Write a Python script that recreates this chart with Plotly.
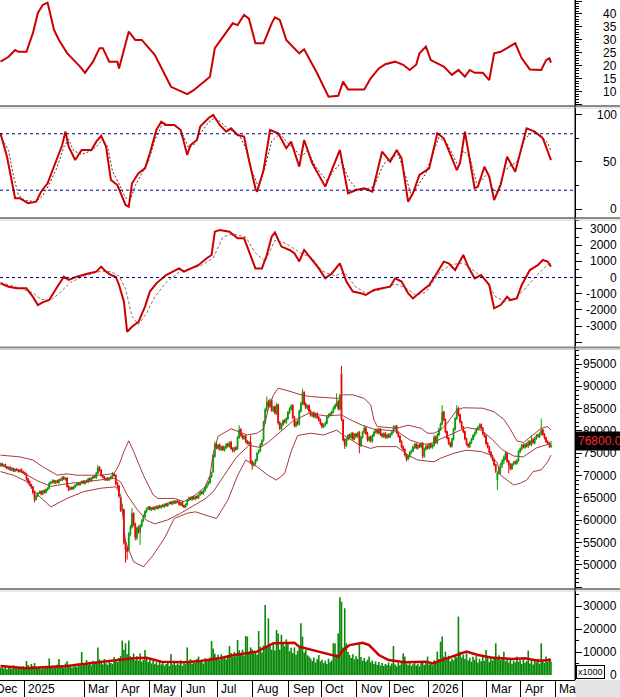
import plotly.graph_objects as go

# ---------------- price data (thousand VND), one value per trading bar ----------------
open_k = [72.3, 72.7, 72.1, 72.5, 71.9, 71.5, 71.9, 71.2, 71.6, 71.0, 71.5, 71.3, 70.9, 71.4, 70.9, 70.7,
          70.4, 69.3, 68.7, 68.0, 67.5, 66.3,
          64.7, 65.4, 66.2, 66.5, 65.8, 66.7, 66.2, 66.8,
          67.1, 68.2, 68.5, 68.9, 68.3, 68.9, 68.4, 69.2, 68.9, 69.7, 69.1,
          69.5, 67.7, 66.9, 67.4, 67.0,
          67.4, 67.8, 68.3, 67.9, 68.3, 68.8, 68.2, 68.9,
          68.5, 69.4, 68.8, 69.4, 69.9,
          69.5, 70.5, 71.9,
          71.3, 70.1, 69.7, 69.0, 69.5,
          69.0, 69.4, 69.7, 70.4,
          70.1, 68.4, 67.7,
          65.0, 62.2, 62.4, 55.3, 53.8,
          53.4, 56.8, 58.4, 61.6, 59.2, 56.0, 58.4, 57.3, 58.7, 59.9,
          60.8, 61.9, 62.5, 63.0, 62.3, 62.9, 62.4, 63.1, 62.6, 63.3, 62.8,
          63.4, 63.0, 63.7, 63.2, 63.7, 64.1, 63.6, 64.3, 63.8, 64.4, 64.2, 63.4,
          64.1, 63.3, 62.9,
          63.5, 64.4, 65.1, 64.6, 65.3, 64.7, 65.4,
          65.0, 65.7, 66.4, 65.9,
          66.6, 67.3, 68.0,
          68.4, 69.7,
          70.8, 74.3,
          77.1, 76.1, 76.9, 75.8, 76.5, 75.7,
          76.2, 77.1, 76.5, 77.5, 76.1, 75.5, 76.3,
          76.0, 78.5,
          80.4, 79.1, 78.3, 78.9, 77.7, 77.1,
          77.6, 73.2, 72.3,
          72.7, 73.4, 75.1, 75.5, 76.9,
          77.9, 81.9, 84.7, 86.6, 85.5,
          86.9, 84.5, 85.4, 83.9,
          85.9, 81.9,
          80.5, 81.4, 82.4, 81.9,
          82.7, 84.1, 84.9,
          85.7, 83.1, 81.1, 82.1,
          81.5, 84.4, 86.1,
          88.7, 86.1, 85.1, 85.7,
          84.5, 83.4, 84.1, 83.1, 83.9,
          83.1, 82.5, 81.7, 80.9, 81.3,
          81.7, 83.1, 83.5, 83.8,
          84.2, 85.1, 85.7, 86.6,
          84.9, 92.8,
          82.5, 78.1, 76.7,
          78.1, 79.1, 78.5, 79.5,
          78.1, 79.3, 78.7, 79.7,
          76.7, 78.5, 79.7, 80.7, 79.5,
          77.9, 78.7, 77.7,
          78.9, 79.7, 80.3, 79.5,
          80.5, 79.3, 78.7, 79.5, 78.5, 79.2, 78.6,
          79.2, 79.7, 80.5, 81.1,
          79.7, 78.9, 77.7, 76.5, 75.9, 74.7,
          73.7, 74.3, 75.1,
          75.5, 76.3, 77.1, 76.1, 76.9, 76.4, 77.3,
          74.3, 75.9, 76.7, 76.1, 77.1, 76.3,
          76.7, 78.7, 77.3, 79.1,
          80.3, 81.5, 84.3, 82.6,
          79.9, 78.5, 77.3, 76.5, 78.1,
          80.3, 82.7, 85.1, 83.7,
          82.1, 80.9, 79.9, 78.3,
          77.1, 76.5, 77.3,
          78.1, 78.9, 79.5, 80.3, 80.7, 81.5,
          80.7, 79.5, 78.9, 77.3,
          76.5, 75.3, 74.5, 73.7, 72.5,
          69.0, 70.5,
          71.7, 72.5, 73.3, 74.1,
          75.1, 73.3, 72.5,
          71.5, 72.5, 73.1, 72.7,
          73.3, 75.3,
          75.9, 76.9, 76.3, 77.1, 76.5,
          77.7, 76.9, 78.1, 77.3,
          78.3, 79.1, 78.7, 79.3,
          80.3, 79.3, 78.5, 77.7, 77.3, 76.5]

high_k = [72.9, 72.9, 72.6, 72.7, 72.1, 72.0, 72.1, 71.7, 71.8, 71.6, 71.7, 71.5, 71.5, 71.6, 71.1, 70.9,
          70.6, 69.5, 68.9, 68.2, 67.7, 66.5,
          65.8, 66.3, 66.7, 66.7, 66.8, 66.9, 67.1, 67.4,
          68.6, 68.8, 69.2, 69.1, 69.0, 69.1, 69.3, 69.4, 69.9, 69.9, 69.6,
          69.7, 67.9, 67.5, 67.6, 67.7,
          68.1, 68.4, 68.5, 68.6, 68.9, 69.0, 69.0, 69.1,
          69.5, 69.6, 69.7, 70.0, 70.1,
          70.8, 72.4, 72.1,
          71.5, 70.3, 69.9, 69.6, 69.7,
          69.7, 70.0, 70.8, 70.6,
          70.3, 68.6, 67.9,
          65.2, 63.7, 62.6, 55.8, 54.3,
          57.4, 59.0, 62.8, 61.8, 59.5, 58.6, 58.8, 59.2, 60.3, 61.3,
          62.3, 62.9, 63.2, 63.2, 63.0, 63.1, 63.2, 63.3, 63.4, 63.5, 63.5,
          63.6, 63.8, 63.9, 64.0, 64.2, 64.3, 64.4, 64.5, 64.5, 64.6, 64.4, 64.2,
          64.3, 63.5, 63.8,
          64.7, 65.3, 65.3, 65.4, 65.5, 65.5, 65.6,
          66.0, 66.5, 66.6, 66.9,
          67.6, 68.2, 68.8,
          70.0, 70.9,
          74.8, 77.6,
          77.5, 77.1, 77.2, 76.7, 76.8, 76.6,
          77.3, 77.4, 77.7, 77.8, 76.4, 76.5, 76.6,
          78.9, 81.3,
          80.6, 79.4, 79.1, 79.2, 78.0, 77.8,
          79.0, 73.5, 73.1,
          73.8, 75.3, 75.9, 77.3, 78.1,
          82.3, 85.2, 87.7, 87.0, 87.3,
          87.1, 85.6, 85.7, 86.3,
          86.1, 82.2,
          81.8, 82.6, 82.7, 83.1,
          84.5, 85.3, 86.0,
          86.0, 83.4, 82.3, 82.5,
          84.8, 86.6, 89.5,
          88.9, 86.4, 85.9, 86.0,
          84.8, 84.3, 84.4, 84.1, 84.2,
          83.4, 82.8, 81.9, 81.7, 82.1,
          83.5, 83.9, 84.2, 84.6,
          85.5, 86.1, 88.4, 87.0,
          88.3, 94.6,
          82.7, 78.4, 78.5,
          79.3, 79.4, 79.7, 79.8,
          79.5, 79.6, 79.9, 80.0,
          78.9, 80.1, 81.3, 80.9, 79.8,
          78.9, 79.0, 79.3,
          80.1, 80.5, 80.6, 80.7,
          80.7, 79.6, 79.7, 79.8, 79.4, 79.5, 79.6,
          80.1, 81.3, 81.3, 81.4,
          79.9, 79.1, 77.9, 76.8, 76.1, 74.9,
          74.7, 75.5, 75.9,
          76.7, 77.3, 77.4, 77.1, 77.2, 77.5, 77.5,
          76.3, 76.9, 77.0, 77.3, 77.4, 77.1,
          79.1, 78.9, 79.5, 80.8,
          81.9, 85.8, 84.5, 82.8,
          80.1, 78.7, 77.5, 78.5, 80.7,
          83.1, 85.8, 85.4, 83.9,
          82.3, 81.1, 80.1, 78.5,
          77.3, 77.7, 78.5,
          79.3, 79.9, 80.7, 81.1, 81.7, 81.7,
          80.9, 79.7, 79.1, 77.5,
          76.7, 75.5, 74.7, 73.9, 72.7,
          71.0, 72.1,
          72.9, 73.7, 74.5, 75.4,
          75.3, 73.5, 72.8,
          72.8, 73.3, 73.4, 73.7,
          75.7, 76.3,
          77.1, 77.2, 77.3, 77.4, 77.9,
          77.9, 78.9, 78.4, 78.7,
          79.3, 79.4, 79.7, 82.8,
          80.5, 79.5, 78.7, 77.9, 77.5, 77.8]

low_k = [72.0, 72.0, 71.9, 71.7, 71.4, 71.3, 71.1, 71.0, 70.8, 70.8, 71.0, 70.7, 70.7, 70.6, 70.4, 70.1,
         68.9, 68.3, 67.6, 67.0, 65.8, 64.0,
         64.4, 65.2, 65.9, 65.6, 65.6, 66.0, 66.0, 66.6,
         66.9, 68.0, 68.3, 68.2, 68.1, 68.3, 68.2, 68.8, 68.7, 69.0, 68.9,
         67.3, 66.5, 66.7, 66.8, 66.8,
         67.2, 67.6, 67.8, 67.7, 68.1, 68.1, 68.0, 68.4,
         68.3, 68.7, 68.6, 69.2, 69.4,
         69.3, 70.3, 70.9,
         69.8, 69.4, 68.9, 68.8, 68.8,
         68.8, 69.2, 69.5, 69.8,
         67.9, 67.2, 65.0,
         61.9, 61.8, 54.6, 50.5, 51.2,
         53.0, 56.4, 58.1, 58.6, 55.5, 55.6, 57.0, 54.5, 58.4, 59.6,
         60.6, 61.7, 62.3, 62.2, 62.1, 62.3, 62.2, 62.5, 62.4, 62.7, 62.6,
         62.9, 62.8, 63.1, 63.0, 63.5, 63.5, 63.4, 63.7, 63.6, 63.9, 63.3, 63.2,
         63.0, 62.7, 62.7,
         63.3, 64.2, 64.5, 64.4, 64.6, 64.5, 64.8,
         64.8, 65.5, 65.8, 65.7,
         66.4, 67.1, 67.8,
         68.2, 69.5,
         70.6, 74.0,
         75.9, 75.8, 75.6, 75.5, 75.5, 75.4,
         76.0, 76.3, 76.3, 75.8, 75.2, 75.2, 75.6,
         75.8, 78.2,
         78.7, 78.1, 78.0, 77.3, 76.9, 76.8,
         72.6, 71.3, 72.0,
         72.4, 73.2, 74.8, 75.3, 76.6,
         77.6, 81.6, 84.3, 85.2, 85.2,
         84.3, 84.2, 83.7, 83.6,
         81.4, 80.2,
         80.2, 81.1, 81.7, 81.6,
         82.4, 83.8, 84.6,
         82.7, 80.8, 80.8, 81.2,
         81.2, 84.1, 85.8,
         85.6, 84.9, 84.8, 84.1,
         83.2, 83.1, 82.9, 82.8, 82.7,
         82.1, 81.3, 80.6, 80.6, 81.0,
         81.5, 82.8, 83.2, 83.5,
         84.0, 84.8, 85.4, 84.6,
         84.6, 82.2,
         77.6, 76.0, 76.4,
         77.8, 78.3, 78.2, 77.9,
         77.9, 78.5, 78.4, 75.0,
         76.4, 78.3, 79.4, 79.1, 77.6,
         77.6, 77.4, 77.4,
         78.7, 79.4, 79.3, 79.2,
         78.9, 78.5, 78.4, 78.3, 78.2, 78.4, 78.4,
         79.0, 79.5, 80.2, 79.3,
         78.5, 77.3, 76.1, 75.5, 74.3, 73.2,
         73.4, 74.0, 74.8,
         75.3, 76.0, 75.9, 75.8, 76.2, 76.1, 73.9,
         74.0, 75.6, 75.9, 75.8, 76.1, 76.0,
         76.5, 77.1, 77.0, 78.8,
         80.1, 81.3, 82.2, 79.5,
         78.1, 76.9, 76.3, 76.3, 77.9,
         80.1, 82.5, 83.3, 81.7,
         80.5, 79.5, 77.9, 76.7,
         76.2, 76.2, 77.1,
         77.9, 78.7, 79.3, 80.1, 80.5, 80.3,
         79.1, 78.5, 76.9, 76.1,
         74.9, 74.0, 73.2, 72.1, 70.6,
         66.8, 70.2,
         70.5, 71.8, 72.6, 73.5,
         72.9, 70.5, 71.2,
         71.3, 72.2, 72.5, 72.4,
         73.1, 75.0,
         75.6, 76.1, 76.0, 76.3, 76.2,
         76.7, 76.6, 77.1, 77.0,
         78.0, 78.5, 78.4, 79.0,
         78.9, 78.1, 77.3, 76.9, 76.2, 76.2]

close_k = [72.6, 72.2, 72.4, 71.9, 71.6, 71.8, 71.3, 71.5, 71.0, 71.4, 71.2, 70.9, 71.3, 70.8, 70.6, 70.3,
           69.2, 68.6, 67.9, 67.4, 66.2, 64.6,
           65.5, 66.1, 66.4, 65.9, 66.6, 66.3, 66.9, 67.2,
           68.3, 68.6, 68.9, 68.4, 68.8, 68.5, 69.1, 69.0, 69.6, 69.2, 69.4,
           67.6, 66.8, 67.3, 67.0, 67.5,
           67.9, 68.2, 68.0, 68.4, 68.7, 68.3, 68.8, 68.6,
           69.3, 68.9, 69.5, 69.8, 69.6,
           70.6, 71.8, 71.2,
           70.0, 69.6, 69.1, 69.4, 69.0,
           69.5, 69.8, 70.3, 70.0,
           68.2, 67.6, 65.4,
           62.3, 62.6, 55.0, 53.5, 53.0,
           57.0, 58.5, 61.5, 59.0, 56.2, 58.3, 57.5, 58.8, 60.0, 61.0,
           62.0, 62.6, 62.9, 62.4, 62.8, 62.5, 63.0, 62.7, 63.2, 62.9, 63.3,
           63.1, 63.6, 63.3, 63.8, 64.0, 63.7, 64.2, 63.9, 64.3, 64.1, 63.5, 64.0,
           63.2, 63.0, 63.6,
           64.5, 65.0, 64.7, 65.2, 64.8, 65.3, 65.0,
           65.8, 66.3, 66.0, 66.7,
           67.4, 68.0, 68.5,
           69.8, 70.6,
           74.5, 77.0,
           76.2, 76.8, 75.9, 76.4, 75.8, 76.3,
           77.0, 76.6, 77.4, 76.0, 75.6, 76.2, 75.9,
           78.6, 80.3,
           79.0, 78.4, 78.8, 77.6, 77.2, 77.5,
           73.0, 72.4, 72.8,
           73.5, 75.0, 75.6, 77.0, 77.8,
           82.0, 84.8, 86.5, 85.6, 86.8,
           84.6, 85.3, 84.0, 85.8,
           81.8, 80.6,
           81.5, 82.3, 82.0, 82.8,
           84.2, 85.0, 85.6,
           83.0, 81.2, 82.0, 81.6,
           84.5, 86.2, 88.6,
           86.0, 85.2, 85.6, 84.4,
           83.5, 84.0, 83.2, 83.8, 83.0,
           82.4, 81.6, 81.0, 81.4, 81.8,
           83.2, 83.6, 83.9, 84.3,
           85.2, 85.8, 86.4, 85.0,
           88.0, 82.6,
           78.0, 76.8, 78.2,
           79.0, 78.6, 79.4, 78.2,
           79.2, 78.8, 79.6, 76.8,
           78.6, 79.8, 80.6, 79.4, 78.0,
           78.6, 77.8, 79.0,
           79.8, 80.2, 79.6, 80.4,
           79.2, 78.8, 79.4, 78.6, 79.1, 78.7, 79.3,
           79.8, 80.6, 81.0, 79.6,
           78.8, 77.6, 76.4, 75.8, 74.6, 73.8,
           74.4, 75.2, 75.6,
           76.4, 77.0, 76.2, 76.8, 76.5, 77.2, 74.4,
           76.0, 76.6, 76.2, 77.0, 76.4, 76.8,
           78.6, 77.4, 79.2, 80.4,
           81.6, 84.2, 82.5, 79.8,
           78.4, 77.2, 76.6, 78.2, 80.4,
           82.8, 85.0, 83.6, 82.0,
           80.8, 79.8, 78.2, 77.0,
           76.6, 77.4, 78.2,
           79.0, 79.6, 80.4, 80.8, 81.4, 80.6,
           79.4, 78.8, 77.2, 76.4,
           75.2, 74.4, 73.6, 72.4, 71.0,
           70.6, 71.8,
           72.6, 73.4, 74.2, 75.0,
           73.2, 72.4, 71.6,
           72.6, 73.0, 72.8, 73.4,
           75.4, 76.0,
           76.8, 76.4, 77.0, 76.6, 77.6,
           77.0, 78.0, 77.4, 78.4,
           79.0, 78.8, 79.4, 80.2,
           79.2, 78.4, 77.6, 77.2, 76.6, 76.8]

# volume, in units of 1000 shares (axis note "x1000")
volume_k = [3200, 4100, 2800, 3600, 2500, 3900, 3000, 2700, 4200, 3300,
            2900, 3500, 2600, 3100, 3800, 2700, 6100, 4300, 3600, 4800,
            3900, 5200, 3400, 2900, 3700, 2500, 3300, 2800, 4000, 3100,
            7200, 3600, 4100, 3000, 3800, 4500, 7000, 3600, 4200, 3300,
            5000, 6000, 3800, 4400, 3100, 3600, 4900, 3400, 5200, 4000,
            10000, 4500, 5200, 6500, 4300, 5800, 4100, 6200, 5000, 5600,
            12000, 6800, 5400, 4600, 7000, 5100, 4400, 6300, 5200, 4800,
            7800, 6600, 5600, 7400, 8200, 15000, 11000, 13800, 9000, 15000,
            8200, 7000, 9300, 6400, 8100, 6200, 9300, 5800, 6600, 10900,
            7200, 5600, 6800, 5000, 6100, 4700, 5500, 4300, 5900, 4600,
            5200, 4100, 4800, 5700, 3900, 9100, 4600, 5300, 4200, 5000,
            4500, 6400, 4000, 5100, 4700, 12000, 5600, 6900, 4900, 6200,
            5300, 7000, 8000, 5600, 6400, 5000, 7300, 6000, 6700, 7500,
            14800, 11500, 9200, 7600, 8800, 6500, 9000, 7200, 8300, 6800,
            8700, 12600, 9600, 7800, 10000, 8200, 15200, 10800, 9300, 11000,
            8500, 17000, 16700, 9700, 12000, 11200, 9400, 10500, 8800, 19100,
            12300, 9800, 12800, 30400, 12000, 24600, 13500, 11000, 13800, 10600,
            19600, 18000, 11000, 17500, 14000, 12500, 15500, 13800, 10300, 11800,
            9500, 12000, 8800, 10500, 12300, 22500, 16700, 9800, 11000, 8600,
            8000, 7200, 6100, 7600, 5400, 6800, 8700, 5900, 6600, 5200,
            6200, 4800, 7100, 5600, 6400, 13800, 13800, 9000, 18100, 33800,
            31900, 12000, 29000, 13800, 10000, 8700, 7400, 9000, 6800, 8200,
            7000, 13500, 7800, 6200, 7400, 5800, 6600, 8000, 5500, 6300,
            4800, 5900, 4400, 5600, 4100, 5200, 3900, 4800, 4300, 5400,
            4000, 5000, 12600, 4600, 3800, 5300, 4200, 5700, 9400, 8000,
            5000, 4300, 5800, 3900, 4700, 5500, 4100, 4900, 3800, 5200,
            6000, 4400, 5300, 8000, 4600, 5800, 4200, 6400, 5600, 10150,
            7000, 14500, 16700, 8000, 10150, 6800, 8400, 5900, 7200, 6400,
            8600, 7700, 25400, 10150, 7600, 8800, 7000, 9400, 6300, 7500,
            5800, 7900, 6600, 8200, 5400, 7100, 6000, 8500, 6200, 10900,
            7400, 5600, 7900, 6300, 8000, 13800, 7200, 8600, 6500, 7800,
            10150, 6100, 7300, 5400, 6800, 4900, 6200, 5500, 8000, 5800,
            6600, 4800, 7000, 5300, 6100, 10600, 5000, 6700, 4600, 6400,
            5500, 7100, 4900, 13800, 6000, 5300, 8000, 5700, 7400, 5900]

# ---------------- indicator lines (bar index, value) ----------------
adx_x = [0, 5, 9, 11, 16, 20, 23, 26, 29, 33, 36, 41, 49, 52, 57, 61, 63, 67, 72, 73,
         79, 83, 87, 95, 105, 115, 119, 124, 129, 132, 137, 143, 146, 150, 153, 157, 162, 167, 169, 172,
         176, 180, 184, 187, 190, 195, 202, 208, 211, 214, 224, 228, 233, 237, 243, 248, 252, 256, 258, 262,
         265, 273, 278, 282, 286, 289, 292, 297, 301, 304, 308, 314, 317, 321, 326, 333, 336, 338, 339]
adx_v = [21.6, 23.5, 26.1, 25.4, 25.4, 32.7, 40.4, 43.5, 44.4, 33.8, 30.0, 24.9, 19.7, 17.3, 21.6, 26.8, 26.8, 21.6, 21.6, 19.0,
         33.2, 30.0, 30.0, 24.2, 11.9, 9.1, 10.6, 13.2, 15.8, 26.8, 31.2, 36.4, 35.7, 39.6, 38.2, 28.7, 28.7, 36.4, 38.7, 37.7,
         30.0, 27.4, 24.8, 26.4, 22.9, 17.1, 8.1, 8.4, 13.9, 10.9, 10.9, 15.2, 19.0, 20.6, 21.6, 20.4, 18.4, 20.4, 24.8, 27.4,
         22.2, 19.7, 16.5, 18.4, 15.8, 18.4, 17.3, 17.3, 14.5, 24.8, 25.4, 27.4, 28.7, 22.9, 18.6, 18.4, 22.2, 22.9, 21.2]

stk_x = [0, 4, 6, 9, 12, 17, 22, 25, 29, 34, 38, 40, 42, 46, 50, 56, 59, 62, 65, 68,
         72, 77, 79, 81, 85, 89, 92, 96, 99, 102, 107, 111, 115, 117, 121, 123, 128, 131, 135, 139,
         142, 146, 150, 153, 157, 158, 162, 166, 171, 176, 179, 184, 187, 192, 200, 204, 209, 214, 219, 224,
         229, 235, 240, 244, 247, 251, 254, 258, 264, 269, 273, 281, 283, 286, 292, 294, 298, 301, 304, 308,
         312, 317, 324, 329, 334, 336, 339]
stk_k = [80.5, 55.6, 38.0, 11.4, 11.4, 6.1, 7.8, 18.4, 27.3, 50.3, 68.0, 82.3, 66.3, 52.1, 62.8, 62.8, 71.6, 77.7, 66.3, 30.9,
         25.5, 4.3, 2.5, 27.3, 38.0, 43.3, 59.2, 84.0, 92.9, 89.4, 89.4, 84.0, 57.4, 68.0, 73.4, 87.6, 96.5, 100.0, 89.4, 82.3,
         85.8, 78.7, 77.0, 52.1, 22.0, 18.4, 41.4, 84.0, 80.5, 64.6, 71.6, 45.0, 73.4, 48.6, 23.8, 41.4, 62.8, 16.7, 20.2, 22.0,
         18.4, 60.9, 50.3, 62.8, 53.9, 7.8, 16.7, 36.2, 43.3, 80.5, 75.2, 41.4, 48.6, 82.3, 22.0, 23.8, 45.0, 34.4, 9.6, 25.5,
         55.6, 39.6, 85.8, 82.3, 75.2, 66.0, 52.0]

std_x = [0, 5, 8, 11, 15, 22, 26, 30, 35, 39, 42, 45, 50, 56, 60, 63, 66, 69, 73, 77,
         80, 83, 87, 91, 95, 99, 103, 108, 112, 116, 119, 123, 128, 132, 136, 140, 143, 147, 151, 155,
         159, 163, 167, 172, 177, 181, 185, 189, 194, 201, 205, 210, 215, 220, 225, 230, 236, 241, 245, 249,
         253, 257, 262, 266, 270, 275, 282, 285, 289, 293, 296, 300, 303, 306, 310, 314, 318, 323, 328, 333,
         337, 339]
std_d = [78, 62, 35, 15, 9, 8, 14, 26, 45, 66, 74, 62, 58, 62, 68, 74, 66, 40, 27, 12,
         10, 25, 38, 50, 73, 88, 90, 89, 80, 65, 68, 80, 92, 97, 92, 85, 83, 79, 65, 40,
         23, 45, 72, 80, 70, 64, 55, 62, 45, 30, 40, 50, 30, 20, 21, 24, 48, 55, 58, 38,
         14, 25, 38, 58, 76, 70, 45, 62, 55, 28, 30, 38, 22, 18, 40, 46, 50, 75, 82, 78,
         70, 62]

macd_x = [0, 5, 10, 16, 20, 23, 26, 30, 35, 39, 42, 47, 54, 59, 62, 65, 68, 71, 73, 76,
          78, 81, 85, 89, 92, 96, 102, 110, 113, 117, 122, 127, 130, 132, 135, 141, 146, 150, 153, 157,
          161, 164, 167, 169, 173, 178, 181, 184, 187, 191, 196, 200, 204, 209, 213, 217, 222, 225, 230, 235,
          240, 243, 247, 251, 254, 259, 264, 268, 273, 276, 280, 285, 288, 292, 296, 301, 304, 308, 312, 314,
          318, 321, 326, 331, 334, 337, 339]
macd_v = [-360, -570, -670, -670, -1190, -1700, -1530, -1390, -570, 50, -150, 50, 250, 360, 670, 360, 150, 50, -460, -1490,
          -3350, -3040, -2740, -1800, -870, -360, 150, 560, 360, 560, 770, 1190, 1390, 2830, 2930, 2830, 2420, 2420, 1600, 560,
          560, 1390, 2520, 2780, 1910, 1700, 1500, 990, 1700, 1190, 560, -50, 250, 870, -250, -870, -970, -1080, -770, -670,
          -570, -50, -250, -970, -1290, -870, -460, 150, 980, 870, 460, 1390, 670, -50, 150, -460, -1900, -1700, -1190, -1390,
          -1290, -460, 460, 770, 1080, 980, 670]

sig_x = [0, 10, 20, 25, 31, 37, 43, 52, 62, 68, 73, 77, 81, 85, 90, 95, 102, 111, 123, 131,
         137, 143, 151, 157, 163, 169, 176, 185, 192, 198, 206, 212, 219, 225, 234, 243, 249, 256, 262, 271,
         278, 285, 293, 299, 305, 311, 317, 323, 331, 337, 339]
sig_v = [-300, -600, -950, -1350, -1400, -900, -300, 100, 400, 350, 100, -700, -2400, -2900, -2200, -1200, -300, 400, 700, 1200,
         2500, 2700, 2500, 1500, 1000, 2300, 2100, 1500, 1200, 400, 100, 300, -600, -950, -750, -400, -600, -1100, -900, 400,
         800, 900, 300, -200, -1200, -1500, -1300, -700, 200, 800, 850]

bb_up_x = [0, 12, 20, 26, 35, 41, 47, 54, 62, 70, 73, 76, 79, 82, 88, 94, 97, 107, 113, 120,
           126, 129, 131, 134, 142, 152, 158, 162, 165, 168, 171, 179, 185, 191, 203, 208, 211, 217, 224, 228,
           230, 232, 244, 251, 259, 263, 267, 271, 275, 281, 285, 297, 304, 310, 314, 318, 322, 326, 333, 337, 339]
bb_up_k = [74.6, 74.2, 73.5, 72.0, 70.1, 70.4, 70.1, 70.1, 70.1, 70.5, 72.4, 75.4, 77.8, 75.4, 70.1, 65.7, 64.9, 64.9, 64.2, 65.7,
           67.5, 70.0, 75.0, 78.8, 80.5, 79.1, 79.5, 80.5, 85.0, 88.0, 89.6, 88.8, 88.1, 87.7, 87.3, 87.3, 88.1, 88.1, 87.3, 85.8,
           82.5, 81.0, 80.6, 81.3, 80.6, 79.5, 79.5, 80.2, 81.7, 84.7, 85.2, 85.1, 84.3, 82.6, 80.4, 77.8, 77.4, 78.5, 80.6, 81.0, 80.2]

bb_mid_x = [0, 8, 16, 23, 31, 41, 51, 62, 70, 74, 78, 84, 90, 95, 103, 111, 120, 126, 131, 137,
            145, 153, 160, 165, 170, 180, 190, 200, 210, 215, 222, 230, 244, 252, 260, 265, 271, 279, 287, 296,
            302, 309, 316, 322, 330, 337, 339]
bb_mid_k = [72.4, 71.6, 70.2, 68.8, 67.6, 68.2, 68.6, 69.0, 69.4, 68.6, 65.7, 62.5, 60.0, 59.2, 60.1, 61.6, 63.5, 64.8, 66.4, 69.7,
            74.0, 76.8, 76.3, 77.5, 79.0, 82.2, 84.0, 83.4, 83.6, 82.6, 81.4, 80.4, 80.0, 78.0, 77.0, 77.2, 78.2, 79.5, 80.8, 80.2,
            78.4, 75.8, 74.4, 74.2, 76.2, 77.0, 77.2]

bb_lo_x = [0, 8, 16, 23, 31, 41, 51, 62, 71, 74, 77, 82, 88, 94, 101, 107, 115, 120, 126, 131,
           133, 140, 146, 151, 158, 165, 170, 175, 179, 183, 191, 199, 207, 211, 221, 228, 232, 244, 251, 257,
           267, 271, 279, 287, 296, 302, 306, 308, 312, 316, 320, 324, 328, 333, 337, 339]
bb_lo_k = [70.9, 70.1, 68.7, 65.7, 63.0, 64.9, 66.4, 67.2, 67.5, 65.7, 55.2, 50.7, 49.6, 52.2, 56.0, 60.4, 61.6, 61.9, 61.2, 60.5,
           60.4, 64.5, 70.0, 73.5, 72.0, 70.0, 69.0, 70.5, 75.4, 79.0, 79.5, 79.1, 80.2, 79.1, 76.9, 76.1, 76.5, 76.5, 74.6, 73.5,
           73.1, 73.9, 75.0, 75.7, 75.4, 74.6, 72.8, 70.1, 69.0, 67.9, 68.3, 69.0, 70.9, 71.3, 73.1, 74.6]

vol_ma_x = [0, 16, 41, 51, 62, 72, 82, 90, 99, 113, 123, 135, 144, 158, 168, 176, 181, 184, 192, 198,
            206, 208, 211, 215, 223, 227, 233, 239, 249, 262, 266, 274, 280, 287, 294, 303, 315, 323, 331, 339]
vol_ma_v = [3900, 2900, 3900, 4800, 5800, 6500, 7250, 7500, 5800, 5500, 6100, 7250, 8700, 10150, 13800, 14000, 14000, 12300, 10900, 9700,
            8300, 8000, 10900, 13000, 14000, 13000, 8700, 6500, 5500, 5800, 5000, 7000, 8700, 10150, 8700, 7500, 7000, 7250, 6200, 6500]

# ---------------- axis labels ----------------
month_pos = [14.5, 51.5, 71.5, 91.5, 111.5, 133.5, 155.5, 177.5, 197.5, 219.5, 239.5, 263.5, 299.5, 320.5, 341.5]
month_txt = ["2025", "Mar", "Apr", "May", "Jun", "Jul", "Aug", "Sep", "Oct", "Nov", "Dec", "2026", "Mar", "Apr", "Ma"]
sep_pos = [14.5, 51.5, 71.5, 91.5, 111.5, 133.5, 155.5, 177.5, 197.5, 219.5, 239.5, 263.5, 284.5, 299.5, 320.5, 341.5]
prev_month_pos = -5.5
prev_month_txt = "Dec"

adx_ticks = [10, 15, 20, 25, 30, 35, 40]
stoch_ticks = [0, 50, 100]
macd_ticks = [-3000, -2000, -1000, 0, 1000, 2000, 3000]
price_ticks = [50000, 55000, 60000, 65000, 70000, 75000, 80000, 85000, 90000, 95000]
vol_ticks = [0, 10000, 20000, 30000]

# ---------------- build ----------------
bars = list(range(len(close_k)))
to_vnd = lambda arr: [v * 1000 for v in arr]

RED = "#cc0000"
FONT = "Liberation Sans, Arial, sans-serif"
PLOT_H = 680.0
X_RANGE = [-0.3, 353.8]

def dom(top_px, bot_px):
    return [1 - bot_px / PLOT_H, 1 - top_px / PLOT_H]

fig = go.Figure()

fig.add_trace(go.Scatter(x=adx_x, y=adx_v, mode="lines", line=dict(color=RED, width=2),
                         xaxis="x", yaxis="y"))

fig.add_trace(go.Scatter(x=std_x, y=std_d, mode="lines", line=dict(color="#5a2a2a", width=1, dash="2px,2px"),
                         xaxis="x", yaxis="y2"))
fig.add_trace(go.Scatter(x=stk_x, y=stk_k, mode="lines", line=dict(color=RED, width=2),
                         xaxis="x", yaxis="y2"))

fig.add_trace(go.Scatter(x=sig_x, y=sig_v, mode="lines", line=dict(color="#9a6a6a", width=1, dash="3px,2px"),
                         xaxis="x", yaxis="y3"))
fig.add_trace(go.Scatter(x=macd_x, y=macd_v, mode="lines", line=dict(color=RED, width=2),
                         xaxis="x", yaxis="y3"))

for bx, bk in [(bb_up_x, bb_up_k), (bb_mid_x, bb_mid_k), (bb_lo_x, bb_lo_k)]:
    fig.add_trace(go.Scatter(x=bx, y=to_vnd(bk), mode="lines", line=dict(color="#a83a3a", width=1),
                             xaxis="x", yaxis="y4"))

fig.add_trace(go.Candlestick(
    x=bars, open=to_vnd(open_k), high=to_vnd(high_k), low=to_vnd(low_k), close=to_vnd(close_k),
    increasing=dict(line=dict(color="#0a9a0a", width=1), fillcolor="#0a9a0a"),
    decreasing=dict(line=dict(color="#ee0000", width=1), fillcolor="#ee0000"),
    whiskerwidth=0, xaxis="x", yaxis="y4"))

fig.add_trace(go.Bar(x=bars, y=volume_k, marker=dict(color="#0a8a0a", line=dict(width=0)), width=1.0,
                     xaxis="x", yaxis="y5"))
fig.add_trace(go.Scatter(x=vol_ma_x, y=vol_ma_v, mode="lines", line=dict(color=RED, width=2.5),
                         xaxis="x", yaxis="y5"))

def yax(domain, rng, dtick, minor_dtick):
    return dict(domain=domain, range=rng, anchor="x", side="right", showgrid=False, zeroline=False,
                showline=True, linecolor="black", linewidth=1, ticks="outside", ticklen=6, tickcolor="black",
                tick0=0, dtick=dtick, showticklabels=False, fixedrange=True,
                minor=dict(ticks="outside", ticklen=3, tickcolor="black", dtick=minor_dtick, showgrid=False))

fig.update_layout(
    width=620, height=697,
    margin=dict(l=0, r=45, t=0, b=17),
    paper_bgcolor="white", plot_bgcolor="white",
    showlegend=False,
    font=dict(family=FONT, size=12, color="black"),
    xaxis=dict(domain=[0, 1], anchor="y5", range=X_RANGE, showgrid=False, zeroline=False,
               showline=True, linecolor="black", linewidth=1,
               tickmode="array", tickvals=sep_pos, ticks="outside", ticklen=16, tickcolor="black",
               showticklabels=False, rangeslider=dict(visible=False), fixedrange=True),
    yaxis=yax(dom(0, 105), [4.87, 45.4], 5, 1),
    yaxis2=yax(dom(108, 217), [-8.5, 107.4], 50, 25),
    yaxis3=yax(dom(220, 346), [-4228, 3549], 1000, 500),
    yaxis4=yax(dom(349, 588), [44846, 98358], 5000, 1000),
    yaxis5=yax(dom(591, 680), [-2174, 36522], 10000, 5000),
)

shapes = []
# dashed reference lines
for yv in (20, 80):
    shapes.append(dict(type="line", xref="x domain", yref="y2", x0=0, x1=1, y0=yv, y1=yv,
                       line=dict(color="#000080", width=1, dash="3px,3px")))
shapes.append(dict(type="line", xref="x domain", yref="y3", x0=0, x1=1, y0=0, y1=0,
                   line=dict(color="#000080", width=1, dash="3px,3px")))
# panel separators
for py in (106, 218, 347.5, 589):
    shapes.append(dict(type="line", xref="paper", yref="paper", x0=0, x1=1.08,
                       y0=1 - py / PLOT_H, y1=1 - py / PLOT_H, line=dict(color="#8a8a8a", width=2)))
    shapes.append(dict(type="line", xref="paper", yref="paper", x0=0, x1=1.08,
                       y0=1 - (py + 2) / PLOT_H, y1=1 - (py + 2) / PLOT_H, line=dict(color="#d2d2d2", width=1)))
# continuous right axis line
shapes.append(dict(type="line", xref="paper", yref="paper", x0=1, x1=1, y0=0, y1=1,
                   line=dict(color="black", width=1)))
# grey corner under the value axis
shapes.append(dict(type="rect", xref="paper", yref="paper", x0=1.0, x1=1.08, y0=-0.03, y1=0,
                   fillcolor="#e4e4e4", line=dict(width=0), layer="above"))
fig.update_layout(shapes=shapes)

ann = []
def ylabels(vals, yref):
    for v in vals:
        ann.append(dict(x=1, xref="paper", xanchor="right", xshift=44, y=v, yref=yref, yanchor="middle",
                        text=str(v), showarrow=False, font=dict(size=12, family=FONT, color="black")))
ylabels(adx_ticks, "y")
ylabels(stoch_ticks, "y2")
ylabels(macd_ticks, "y3")
ylabels(price_ticks, "y4")
ylabels(vol_ticks, "y5")

label_y = -9 / PLOT_H
for pos, txt in zip(month_pos, month_txt):
    ann.append(dict(x=pos, xref="x", y=label_y, yref="paper", xanchor="left", yanchor="middle", xshift=2,
                    text=txt, showarrow=False, font=dict(size=12, family=FONT, color="black")))
prev_frac = (prev_month_pos - X_RANGE[0]) / (X_RANGE[1] - X_RANGE[0])
ann.append(dict(x=prev_frac, xref="paper", y=label_y, yref="paper", xanchor="left", yanchor="middle", xshift=2,
                text=prev_month_txt, showarrow=False, font=dict(size=12, family=FONT, color="black")))

ann.append(dict(x=1, xref="paper", xanchor="left", xshift=1, y=0, yref="paper", yanchor="bottom", yshift=1,
                text="x1000", showarrow=False, font=dict(size=9, family=FONT, color="black"),
                bordercolor="black", borderwidth=1, borderpad=1, bgcolor="white"))

last_price = close_k[-1] * 1000
ann.append(dict(x=1, xref="paper", xanchor="left", xshift=0, y=last_price, yref="y4", yanchor="middle",
                yshift=4, text=f"{last_price:.2f}", showarrow=False,
                font=dict(size=12, family=FONT, color="#ff2a2a"), bgcolor="black", borderpad=2))
fig.update_layout(annotations=ann)

fig.write_html("out.html", config={"displayModeBar": False, "staticPlot": True},
               post_script="document.body.style.margin='0';document.body.style.overflow='hidden';")
